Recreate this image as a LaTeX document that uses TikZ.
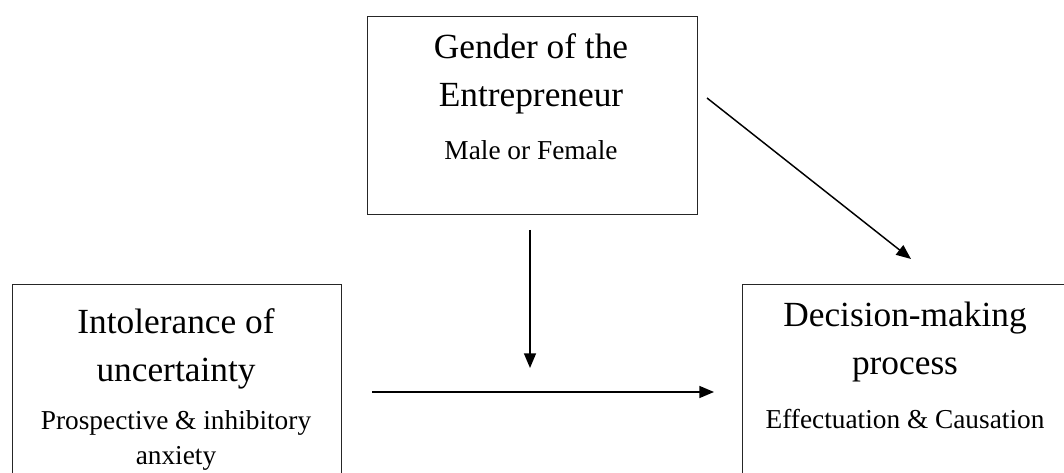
\documentclass[tikz,border=0pt]{standalone}
\usepackage{fontspec}
\setmainfont{Liberation Serif}
\usetikzlibrary{arrows.meta}
\begin{document}
\begin{tikzpicture}[x=0.75pt,y=-0.75pt,
  boxline/.style={draw=black!85,line width=1.1pt},
  big/.style={font=\fontsize{26.5pt}{36pt}\selectfont,inner sep=0pt,anchor=base},
  small/.style={font=\fontsize{20.5pt}{27pt}\selectfont,inner sep=0pt,anchor=base},
  arr/.style={line width=1.1pt,-{Triangle[length=11pt,width=9pt]}}]
\clip (0,0) rectangle (1064,473);
\fill[white] (0,0) rectangle (1064,473);
% boxes
\node[boxline,rectangle,minimum width=330*0.75pt,minimum height=198*0.75pt,anchor=north west] (top) at (367,16) {};
\node[boxline,rectangle,minimum width=329*0.75pt,minimum height=210*0.75pt,anchor=north west] (left) at (12,284) {};
\node[boxline,rectangle,minimum width=340*0.75pt,minimum height=210*0.75pt,anchor=north west] (right) at (742,284) {};
% texts
\node[big] (t1) at (531,59) {Gender of the};
\node[big] (t2) at (531,107) {Entrepreneur};
\node[small] (t3) at (531,160) {Male or Female};
\node[big] (l1) at (176,334) {Intolerance of};
\node[big] (l2) at (176,382) {uncertainty};
\node[small] (l3) at (176,430) {Prospective \& inhibitory};
\node[small] (l4) at (176,465) {anxiety};
\node[big] (r1) at (905,327) {Decision-making};
\node[big] (r2) at (905,375) {process};
\node[small] (r3) at (905,429) {Effectuation \& Causation};
% arrows
\coordinate (vA) at (530,230);
\coordinate (vB) at (530,368);
\coordinate (hA) at (372,392);
\coordinate (hB) at (714,392);
\coordinate (dA) at (707,98);
\coordinate (dB) at (911,259);
\draw[arr] (vA) -- (vB);
\draw[arr] (hA) -- (hB);
\draw[arr] (dA) -- (dB);
\end{tikzpicture}
\end{document}
